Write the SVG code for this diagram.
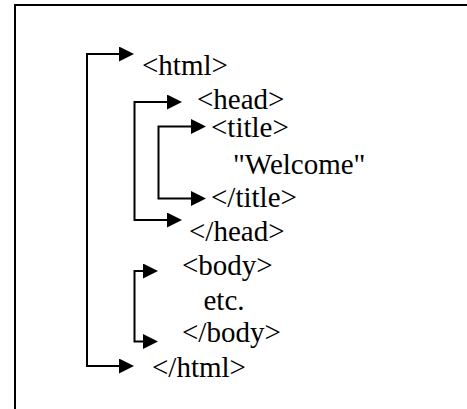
<svg xmlns="http://www.w3.org/2000/svg" width="467" height="409" viewBox="0 0 467 409">
  <style>
    .frame { fill: none; stroke: #000; stroke-width: 2; }
    .link { fill: none; stroke: #000; stroke-width: 2; stroke-linejoin: miter; }
    .tag { font-family: 'Liberation Serif', 'Times New Roman', Times, serif; font-size: 29px; fill: #000; }
  </style>
  <defs>
    <marker id="arrow" markerUnits="userSpaceOnUse" markerWidth="16" markerHeight="16"
            refX="0" refY="7.5" orient="auto-start-reverse">
      <path d="M0,0 L15,7.5 L0,15 Z" fill="#000"/>
    </marker>
  </defs>

  <!-- page frame: top and left edges only -->
  <path class="frame" d="M15,409 V5 H467"/>

  <!-- brackets pairing each opening tag with its closing tag -->
  <g id="connectors">
    <path class="link" d="M119,54 H87 V366 H119" marker-start="url(#arrow)" marker-end="url(#arrow)"/>
    <path class="link" d="M167,102 H134.5 V220 H167" marker-start="url(#arrow)" marker-end="url(#arrow)"/>
    <path class="link" d="M191,126.5 H158.5 V198.5 H191" marker-start="url(#arrow)" marker-end="url(#arrow)"/>
    <path class="link" d="M143,271 H134.5 V341.5 H143" marker-start="url(#arrow)" marker-end="url(#arrow)"/>
  </g>

  <g id="html-open"><text class="tag" x="142" y="75">&lt;html&gt;</text></g>
  <g id="head-open"><text class="tag" x="197" y="109">&lt;head&gt;</text></g>
  <g id="title-open"><text class="tag" x="211" y="137">&lt;title&gt;</text></g>
  <g id="title-text"><text class="tag" x="233" y="174">"Welcome"</text></g>
  <g id="title-close"><text class="tag" x="211" y="207">&lt;/title&gt;</text></g>
  <g id="head-close"><text class="tag" x="189" y="241">&lt;/head&gt;</text></g>
  <g id="body-open"><text class="tag" x="182" y="275">&lt;body&gt;</text></g>
  <g id="body-text"><text class="tag" x="203.5" y="310">etc.</text></g>
  <g id="body-close"><text class="tag" x="182" y="342">&lt;/body&gt;</text></g>
  <g id="html-close"><text class="tag" x="152" y="377">&lt;/html&gt;</text></g>
</svg>
